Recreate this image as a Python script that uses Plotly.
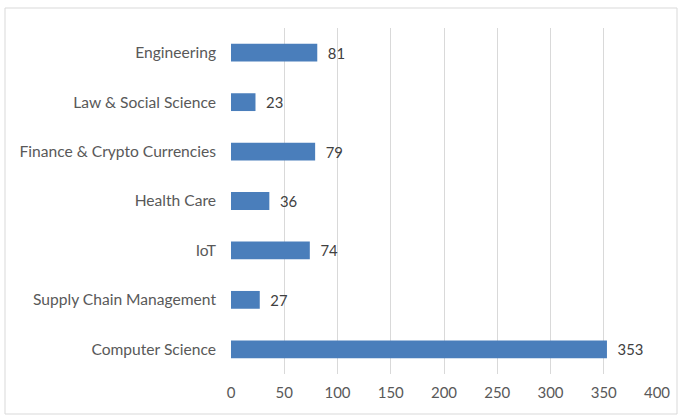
import plotly.graph_objects as go

categories = ["Engineering", "Law & Social Science", "Finance & Crypto Currencies",
              "Health Care", "IoT", "Supply Chain Management", "Computer Science"]
values = [81, 23, 79, 36, 74, 27, 353]
x_ticks = [0, 50, 100, 150, 200, 250, 300, 350, 400]

L, R, T, B = 231, 657, 28, 374
W, H = 681, 420
pw, ph = R - L, B - T
FONT = "Lato"

fig = go.Figure(go.Bar(
    y=categories, x=values, orientation="h",
    marker=dict(color="#4a7ebb", line=dict(width=0)),
    width=0.36,
    text=["  " + str(v) for v in values], textposition="outside",
    textfont=dict(family=FONT, size=15, color="#404040"),
    cliponaxis=False,
    hoverinfo="skip",
))

fig.update_layout(
    width=W, height=H,
    margin=dict(l=L, r=W - R, t=T, b=H - B, autoexpand=False),
    paper_bgcolor="white", plot_bgcolor="white",
    showlegend=False,
    font=dict(family=FONT, size=15, color="#595959"),
    xaxis=dict(range=[0, 400], tickvals=x_ticks, showgrid=True, gridcolor="#d9d9d9",
               gridwidth=1, zeroline=False, showline=False, ticks="",
               automargin=False, ticklabelstandoff=8,
               tickfont=dict(family=FONT, size=15, color="#595959")),
    yaxis=dict(categoryorder="array", categoryarray=categories, autorange="reversed",
               showgrid=False, zeroline=False, showline=False, ticks="",
               automargin=False, ticklabelstandoff=14,
               tickfont=dict(family=FONT, size=15.6, color="#595959")),
    shapes=[dict(type="rect", xref="paper", yref="paper",
                 x0=(5 - L) / pw, x1=(677 - L) / pw,
                 y0=(B - 414) / ph, y1=(B - 8) / ph,
                 line=dict(color="#d9d9d9", width=1), fillcolor="rgba(0,0,0,0)", layer="below")],
)

fig.write_html("out.html", config={"displayModeBar": False},
               post_script="document.body.style.margin='0';document.body.style.overflow='hidden';")
